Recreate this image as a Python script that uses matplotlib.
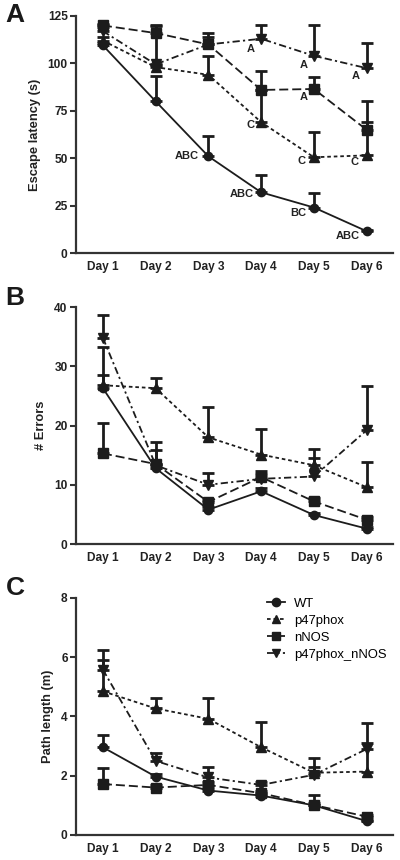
import numpy as np
import matplotlib
matplotlib.use("Agg")
import matplotlib.pyplot as plt
from matplotlib.lines import Line2D

plt.rcParams['font.family'] = ['Liberation Sans', 'DejaVu Sans']

days = ["Day 1", "Day 2", "Day 3", "Day 4", "Day 5", "Day 6"]
groups = ["WT", "p47phox", "nNOS", "p47phox_nNOS"]

# Panel A: escape latency (s), mean and SEM
lat_wt = [109.5, 80, 51, 32, 24, 11.5]
lat_wt_sem = [1.5, 13.5, 10.5, 9, 7.5, 0.5]
lat_p47 = [112, 98, 94, 69, 50.5, 51.5]
lat_p47_sem = [2, 1, 10, 17, 13.5, 17.5]
lat_nnos = [120, 116, 110, 86, 86.5, 65]
lat_nnos_sem = [1, 4, 6, 10, 6.3, 15]
lat_dko = [117, 99.5, 110, 113, 104, 97.5]
lat_dko_sem = [2, 20, 4, 7, 16, 13.5]

# Panel B: number of errors
err_wt = [26.3, 12.8, 5.8, 8.9, 4.9, 2.6]
err_wt_sem = [2.3, 0.7, 0.4, 0.5, 0.4, 0.3]
err_p47 = [26.8, 26.3, 18, 15.1, 13.3, 9.6]
err_p47_sem = [6.4, 1.7, 5.2, 4.3, 2.7, 4.2]
err_nnos = [15.3, 13.5, 7.1, 11.3, 7.2, 4.1]
err_nnos_sem = [5.1, 2.4, 0.4, 1.0, 0.6, 0.5]
err_dko = [34.8, 13.3, 10.0, 11.0, 11.4, 19.2]
err_dko_sem = [3.9, 4.0, 2.0, 0.8, 3.1, 7.4]

# Panel C: path length (m)
path_wt = [2.96, 1.97, 1.5, 1.33, 1.0, 0.47]
path_wt_sem = [0.4, 0.1, 0.08, 0.06, 0.08, 0.04]
path_p47 = [4.85, 4.27, 3.92, 2.96, 2.1, 2.14]
path_p47_sem = [1.05, 0.37, 0.72, 0.87, 0.5, 0.96]
path_nnos = [1.72, 1.6, 1.69, 1.41, 1.01, 0.62]
path_nnos_sem = [0.54, 0.08, 0.1, 0.08, 0.33, 0.06]
path_dko = [5.58, 2.5, 1.94, 1.69, 2.03, 2.9]
path_dko_sem = [0.67, 0.28, 0.34, 0.1, 0.27, 0.87]

# Panel A significance letters: (group index, day index, label)
sig_labels = [(0, 2, "ABC"), (0, 3, "ABC"), (0, 4, "BC"), (0, 5, "ABC"),
              (3, 3, "A"), (3, 4, "A"), (3, 5, "A"), (2, 4, "A"),
              (1, 3, "C"), (1, 4, "C"), (1, 5, "C")]
sig_offsets = [(-10, 0), (-7, -2), (-8, -5), (-7, -5),
               (-6, -10), (-6, -9), (-7, -8), (-6, -8),
               (-7, -3), (-8, -4), (-8, -7)]

col = "#1c1c1c"
markers = ['o', '^', 's', 'v']
dashes = [None, (2, 1.6), (5, 2.2), (4, 1.8, 1.2, 1.8)]

fig = plt.figure(figsize=(4, 8.6), dpi=100)
L, W = 0.19, 0.7925
axA = fig.add_axes([L, 0.7058, W, 0.2756])
axB = fig.add_axes([L, 0.3674, W, 0.2756])
axC = fig.add_axes([L, 0.0291, W, 0.2756])

x = np.arange(1, 7)

def draw(ax, means, sems, ylim, yticks, ylabel):
    for i, (m, s) in enumerate(zip(means, sems)):
        m = np.array(m); s = np.array(s)
        ax.errorbar(x, m, yerr=[np.zeros_like(s), s], fmt='none', ecolor=col,
                    elinewidth=2.0, capsize=4.0, capthick=2.0, zorder=2)
    for i, m in enumerate(means):
        ln, = ax.plot(x, m, color=col, lw=1.3, marker=markers[i],
                      ms=6.6 if markers[i] != 'o' else 6.0,
                      mfc=col, mec=col, zorder=3)
        if dashes[i] is not None:
            ln.set_dashes(dashes[i])
    ax.set_xlim(0.49, 6.5)
    ax.set_ylim(*ylim)
    ax.set_yticks(yticks)
    ax.set_xticks(x)
    ax.set_xticklabels(days)
    for sp in ['top', 'right']:
        ax.spines[sp].set_visible(False)
    for sp in ['left', 'bottom']:
        ax.spines[sp].set_linewidth(1.6)
        ax.spines[sp].set_color('#333333')
    ax.tick_params(axis='x', length=0, pad=6, labelsize=8.6)
    ax.tick_params(axis='y', length=4, width=1.5, color='#333333', pad=2, labelsize=8.6)
    for lab in ax.get_xticklabels() + ax.get_yticklabels():
        lab.set_fontweight('bold')
        lab.set_color('#222222')
    ax.set_ylabel(ylabel, fontsize=9.3, fontweight='bold', color='#222222', labelpad=5)
    ax.spines['left'].set_bounds(ylim[0], ylim[1])

meansA = [lat_wt, lat_p47, lat_nnos, lat_dko]
semsA = [lat_wt_sem, lat_p47_sem, lat_nnos_sem, lat_dko_sem]
draw(axA, meansA, semsA, (0, 125), [0, 25, 50, 75, 100, 125], "Escape latency (s)")
draw(axB, [err_wt, err_p47, err_nnos, err_dko], [err_wt_sem, err_p47_sem, err_nnos_sem, err_dko_sem],
     (0, 40), [0, 10, 20, 30, 40], "# Errors")
draw(axC, [path_wt, path_p47, path_nnos, path_dko], [path_wt_sem, path_p47_sem, path_nnos_sem, path_dko_sem],
     (0, 8), [0, 2, 4, 6, 8], "Path length (m)")

for (g, d, lab), (dx, dy) in zip(sig_labels, sig_offsets):
    axA.annotate(lab, (x[d], meansA[g][d]), xytext=(dx, dy), textcoords='offset pixels',
                 ha='right', va='center', fontsize=8, fontweight='bold', color='#222222')

# legend
handles = []
for i, g in enumerate(groups):
    h = Line2D([0], [0], color=col, lw=1.3, marker=markers[i], ms=6, mfc=col, mec=col)
    if dashes[i] is not None:
        h.set_dashes(dashes[i])
    handles.append(h)
axC.legend(handles, groups, loc='upper right', bbox_to_anchor=(1.005, 1.035), frameon=False,
           fontsize=9.4, handlelength=1.4, handletextpad=0.7, labelspacing=0.38, borderaxespad=0.2)

for lab, yy in [("A", 0.982), ("B", 0.653), ("C", 0.316)]:
    fig.text(0.038, yy, lab, fontsize=19, fontweight='bold', ha='center', va='center', color='#1a1a1a')

fig.savefig("out.png", dpi=100)
